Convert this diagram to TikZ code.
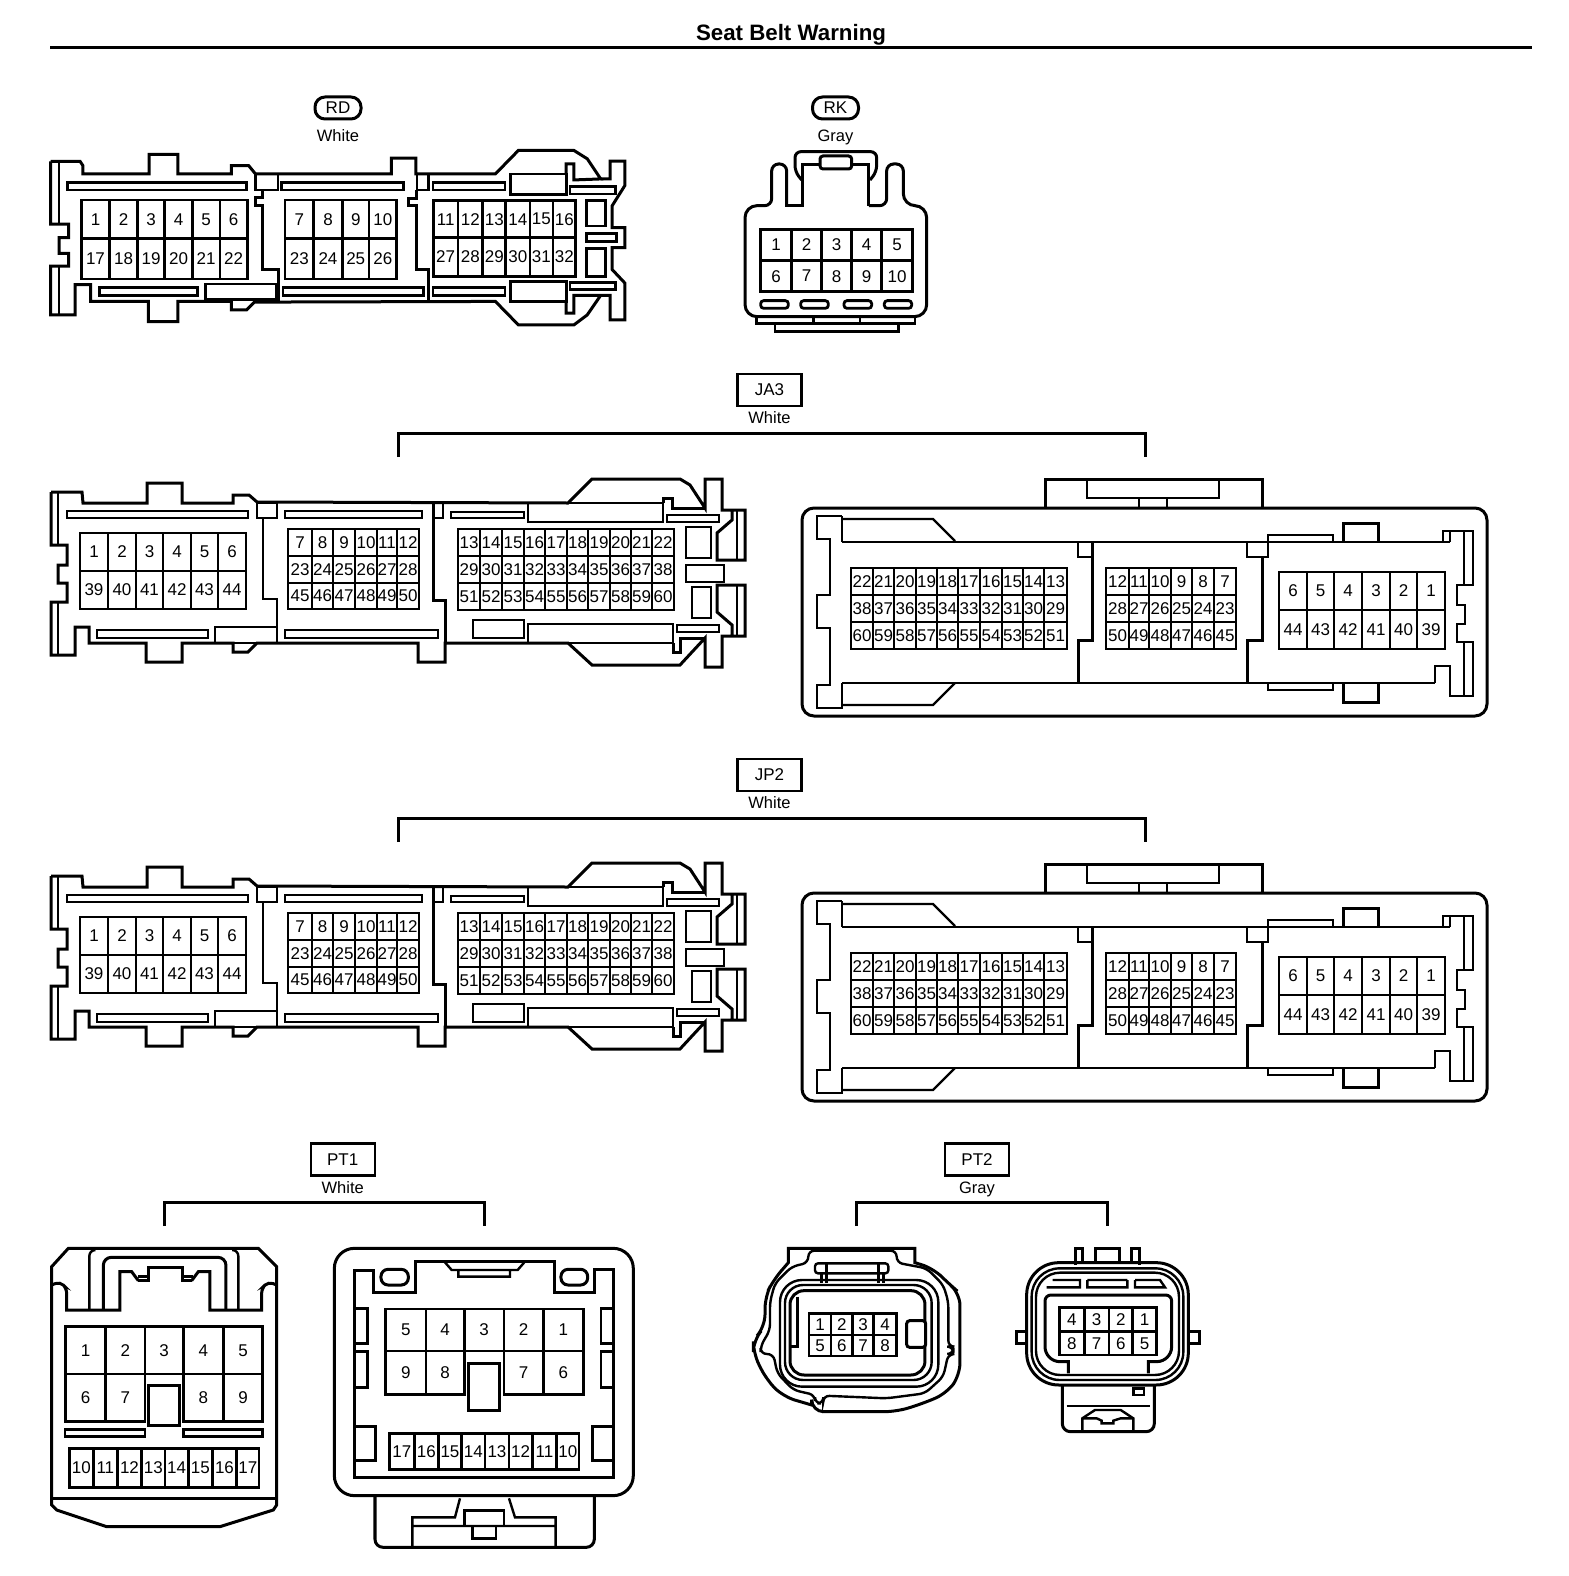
\documentclass[tikz,border=0pt]{standalone}
\usepackage{fontspec}
\setmainfont{Liberation Sans}
\tikzset{outline/.style={line width=3pt, line join=miter},
    thinline/.style={line width=2.4pt},
    barline/.style={line width=2.8pt},
    pincell/.style={line width=2.6pt},
    pin/.style={inner sep=0pt, font=\fontsize{17}{17}\selectfont},
    colourtext/.style={inner sep=0pt, text height=12pt, text depth=3.5pt, font=\fontsize{16.5}{16.5}\selectfont},
    boxtag/.style={draw, line width=2.2pt, minimum width=64pt, minimum height=32pt, inner sep=0pt, font=\fontsize{17}{17}\selectfont},
    pilltag/.style={draw, line width=3pt, rounded corners=10pt, minimum width=46pt, minimum height=22pt, inner sep=0pt, font=\fontsize{17}{17}\selectfont},
    bracket/.style={line width=3pt}}
% one row of pins: prefix, top, bottom, cell edges, pin numbers
\newcommand{\pinrow}[5]{
    \foreach \pinno [count=\ii] in {#5} {
        \pgfmathsetmacro{\xa}{{#4}[\ii-1]}
        \pgfmathsetmacro{\xb}{{#4}[\ii]}
        \draw[pincell] (\xa,#2) rectangle (\xb,#3);
        \node[pin] (#1\pinno) at ({(\xa+\xb)/2},{(#2+#3)/2}) {\pinno};
    }
}
\newcommand{\bars}[1]{\foreach \a/\b/\c/\d in {#1} {\draw[barline] (\a,\b) rectangle (\c,\d);}}
% long connector with the tabs on the right
\newcommand{\longconn}[1]{
    \draw[outline] (51,492) -- (82,492) -- (83,503) -- (147,503) -- (147,483) -- (182,483) -- (182,503) -- (233,503) -- (233,495) -- (249,495) -- (257,502) -- (568,503) -- (592,479) -- (680,479) -- (690,485) -- (705,508) -- (705,479) -- (722,479) -- (722,510) -- (745,510) -- (745,560) -- (717,560) -- (717,533) -- (732,520) -- (732,510);
    \draw[outline] (663,503) -- (663,498) -- (672,498) -- (672,508) -- (705,508);
    \draw[outline] (51,492) -- (51,545) -- (67,545) -- (67,565) -- (58,565) -- (58,583) -- (67,583) -- (67,602) -- (51,602) -- (51,655) -- (75,655) -- (75,627) -- (89,627) -- (89,643) -- (146,643) -- (146,662) -- (182,662) -- (182,643) -- (233,643) -- (233,652) -- (248,652) -- (257,643) -- (418,643) -- (418,662) -- (445,662) -- (445,643) -- (568,643) -- (592,665) -- (680,665) -- (705,638) -- (705,667) -- (722,667) -- (722,636) -- (745,636) -- (745,585) -- (717,585) -- (717,612) -- (732,625) -- (732,636);
    \draw[outline] (705,638) -- (680,638) -- (680,652) -- (673,652) -- (673,643);
    \draw[thinline] (58,492) -- (58,545) (58,602) -- (58,655) (737,510) -- (737,560) (737,585) -- (737,636);
    \draw[thinline] (263,518) -- (263,599) -- (277,599) -- (277,643);
    \draw[outline] (433,503) -- (433,600) -- (445,600) -- (445,643);
    \bars{67/511/248/518, 285/511/422/518, 97/630/208/638, 285/630/438/638, 215/627/277/643, 257/503/277/518, 433/503/443/518, 451/512/524/518, 528/503/663/522, 528/624/673/643, 473/620/524/638, 667/515/719/522, 677/625/719/632, 686/527/711/558, 686/565/724/582, 692/587/711/618}
    \def\edgesA{80,108,136,163,191,218,246}
    \pinrow{#1a}{533}{571}{\edgesA}{1,2,3,4,5,6}
    \pinrow{#1a}{571}{609}{\edgesA}{39,40,41,42,43,44}
    \def\edgesB{288,312,333,355,377,397,419}
    \pinrow{#1b}{529}{556}{\edgesB}{7,8,9,10,11,12}
    \pinrow{#1b}{556}{583}{\edgesB}{23,24,25,26,27,28}
    \pinrow{#1b}{583}{609}{\edgesB}{45,46,47,48,49,50}
    \def\edgesC{458,480,502,524,545,567,588,610,631,652,674}
    \pinrow{#1c}{529}{556}{\edgesC}{13,14,15,16,17,18,19,20,21,22}
    \pinrow{#1c}{556}{583}{\edgesC}{29,30,31,32,33,34,35,36,37,38}
    \pinrow{#1c}{583}{610}{\edgesC}{51,52,53,54,55,56,57,58,59,60}
}
% mating half in the rounded case
\newcommand{\caseconn}[1]{
    \draw[outline, rounded corners=12pt] (802,508) rectangle (1487,716);
    \draw[outline] (1045,508) -- (1045,479) -- (1262,479) -- (1262,508);
    \draw[thinline] (1087,479) -- (1087,498) -- (1219,498) -- (1219,479);
    \draw[thinline] (1139,498) -- (1139,508) (1167,498) -- (1167,508);
    \draw[pincell] (842,516) -- (817,516) -- (817,539) -- (830,539) -- (830,595) -- (817,595) -- (817,628) -- (830,628) -- (830,685) -- (817,685) -- (817,708) -- (842,708) -- (842,683);
    \draw[pincell] (842,516) -- (842,542);
    \draw[thinline] (842,519) -- (933,519) -- (955,541) (842,705) -- (933,705) -- (955,683);
    \draw[thinline] (842,542) -- (1450,542) (842,683) -- (1435,683);
    \draw[thinline] (1078,542) -- (1078,557) -- (1092,557);
    \draw[outline] (1092,542) -- (1092,640) -- (1078,640) -- (1078,683);
    \draw[thinline] (1247,542) -- (1247,557) -- (1268,557) -- (1268,535) -- (1333,535) -- (1333,542);
    \draw[outline] (1262,557) -- (1262,640) -- (1247,640) -- (1247,683);
    \draw[outline] (1343,542) -- (1343,523) -- (1378,523) -- (1378,542) (1343,683) -- (1343,702) -- (1378,702) -- (1378,683);
    \draw[thinline] (1268,683) -- (1268,690) -- (1333,690) -- (1333,683);
    \draw[thinline] (1443,542) -- (1443,531) -- (1473,531) -- (1473,585) -- (1457,585) -- (1457,605) -- (1465,605) -- (1465,624) -- (1457,624) -- (1457,642) -- (1473,642) -- (1473,696) -- (1450,696) -- (1450,666) -- (1435,666) -- (1435,683);
    \draw[thinline] (1450,531) -- (1450,542) (1464,531) -- (1464,585) (1464,642) -- (1464,696);
    \def\edgesD{851,873,894,916,937,958,980,1002,1023,1044,1067}
    \pinrow{#1d}{568}{595}{\edgesD}{22,21,20,19,18,17,16,15,14,13}
    \pinrow{#1d}{595}{622}{\edgesD}{38,37,36,35,34,33,32,31,30,29}
    \pinrow{#1d}{622}{649}{\edgesD}{60,59,58,57,56,55,54,53,52,51}
    \def\edgesE{1106,1129,1149,1171,1192,1214,1236}
    \pinrow{#1e}{568}{595}{\edgesE}{12,11,10,9,8,7}
    \pinrow{#1e}{595}{622}{\edgesE}{28,27,26,25,24,23}
    \pinrow{#1e}{622}{649}{\edgesE}{50,49,48,47,46,45}
    \def\edgesF{1279,1307,1334,1362,1390,1417,1445}
    \pinrow{#1f}{572}{610}{\edgesF}{6,5,4,3,2,1}
    \pinrow{#1f}{610}{649}{\edgesF}{44,43,42,41,40,39}
}

\begin{document}
\begin{tikzpicture}[x=1pt,y=-1pt]
    \useasboundingbox (0,0) rectangle (1568,1576);
    \node[inner sep=0pt, font=\fontsize{22.3}{22.3}\selectfont\bfseries] (title) at (791,34.5) {Seat Belt Warning};
    \coordinate (ruleleft) at (50,47.5);
    \coordinate (ruleright) at (1532,47.5);
    \draw[line width=3.5pt] (ruleleft) -- (ruleright);

    % tags
    \node[pilltag] (rd) at (338,108) {RD};
    \node[colourtext] (rdcolour) at (338,137.5) {White};
    \node[pilltag] (rk) at (835.5,108) {RK};
    \node[colourtext] (rkcolour) at (835.5,137.5) {Gray};
    \node[boxtag] (ja3) at (769.5,390) {JA3};
    \node[colourtext] (ja3colour) at (769.5,419.5) {White};
    \node[boxtag] (jp2) at (769.5,775) {JP2};
    \node[colourtext] (jp2colour) at (769.5,804.5) {White};
    \node[boxtag] (pt1) at (342.7,1159.5) {PT1};
    \node[colourtext] (pt1colour) at (342.7,1189.5) {White};
    \node[boxtag] (pt2) at (977,1159.5) {PT2};
    \node[colourtext] (pt2colour) at (977,1189.5) {Gray};

    % brackets
    \coordinate (ja3l) at (398,457);
    \coordinate (ja3r) at (1145,457);
    \coordinate (jp2l) at (398,842);
    \coordinate (jp2r) at (1145,842);
    \coordinate (pt1l) at (164,1226);
    \coordinate (pt1r) at (484,1226);
    \coordinate (pt2l) at (856,1226);
    \coordinate (pt2r) at (1107,1226);
    \draw[bracket] (ja3l) -- ++(0,-24) -| (ja3r);
    \draw[bracket] (jp2l) -- ++(0,-24) -| (jp2r);
    \draw[bracket] (pt1l) -- ++(0,-24) -| (pt1r);
    \draw[bracket] (pt2l) -- ++(0,-24) -| (pt2r);

    % RD
    \begin{scope}[shift={(40,90)},x=.3827pt,y=-.3356pt]
        \draw[outline] (28,213) -- (105,213) -- (112,225) -- (112,250) -- (285,250) -- (285,192) -- (360,192) -- (360,250) -- (500,250) -- (500,225) -- (545,225) -- (563,250) -- (918,250) -- (918,203) -- (982,203) -- (982,250) -- (1190,250) -- (1250,180) -- (1395,180) -- (1430,205) -- (1465,265) -- (1395,268) -- (1395,220) -- (1375,220) -- (1375,250);
        \draw[outline] (1465,265) -- (1490,265) -- (1490,212) -- (1528,212) -- (1528,285) -- (1495,345) -- (1495,410) -- (1528,410) -- (1528,470) -- (1495,470) -- (1495,535) -- (1528,575) -- (1528,685) -- (1490,685) -- (1490,612) -- (1465,612) -- (1395,612) -- (1395,665) -- (1375,665) -- (1375,630);
        \draw[outline] (28,213) -- (28,400) -- (75,400) -- (75,440) -- (50,440) -- (50,487) -- (75,487) -- (75,525) -- (28,525) -- (28,670) -- (92,670) -- (92,580) -- (132,580) -- (132,630) -- (283,630) -- (283,690) -- (360,690) -- (360,630) -- (500,630) -- (500,655) -- (540,655) -- (560,632) -- (1190,630) -- (1250,700) -- (1395,700) -- (1430,670) -- (1465,612);
        \draw[thinline] (50,213) -- (50,400) (50,525) -- (50,670);
        \draw[outline] (582,298) -- (582,320) -- (562,320) -- (562,343) -- (582,343) -- (582,535) -- (622,535) -- (622,630);
        \draw[outline] (985,298) -- (985,322) -- (962,322) -- (962,345) -- (985,345) -- (985,535) -- (1015,535) -- (1015,630);
        \bars{72/275/540/298, 630/275/950/298, 1027/275/1215/298, 155/588/412/613, 635/588/1003/613, 1027/588/1215/613, 433/578/618/625, 563/250/622/298, 985/250/1015/298, 1230/250/1375/312, 1230/570/1375/630, 1385/288/1503/310, 1385/573/1503/595, 1427/330/1477/405, 1427/428/1507/452, 1427/472/1477/555}
        \pinrow{rda}{328}{443}{108,182,255,326,398,470,542}{1,2,3,4,5,6}
        \pinrow{rda}{443}{563}{108,182,255,326,398,470,542}{17,18,19,20,21,22}
        \pinrow{rdb}{328}{443}{640,715,790,860,932}{7,8,9,10}
        \pinrow{rdb}{443}{563}{640,715,790,860,932}{23,24,25,26}
        \pinrow{rdc}{330}{440}{1028,1092,1157,1217,1280,1340,1400}{11,12,13,14,15,16}
        \pinrow{rdc}{440}{555}{1028,1092,1157,1217,1280,1340,1400}{27,28,29,30,31,32}
    \end{scope}

    % RK
    \begin{scope}[shift={(730,90)},x=.3333pt,y=-.3333pt]
        \draw[outline, rounded corners=7pt] (170,347) -- (170,222) -- (125,222) -- (125,347) [rounded corners=12pt] -- (45,347) -- (45,680) -- (590,680) -- (590,347) -- (520,347) [rounded corners=7pt] -- (520,222) -- (470,222) -- (470,347) -- (417,347);
        \draw[outline] (170,330) -- (170,347) -- (217,347) -- (217,225) -- (270,225) (365,225) -- (417,225) -- (417,347);
        \draw[outline, rounded corners=6pt] (215,270) -- (195,245) -- (195,185) -- (440,185) -- (440,245) -- (420,270);
        \draw[outline, rounded corners=3pt] (270,198) rectangle (365,237);
        \foreach \a/\c in {92/175, 212/295, 342/425, 463/545} {
            \draw[barline, rounded corners=3pt] (\a,632) rectangle (\c,655);
        }
        \draw[thinline] (80,680) -- (80,700) -- (555,700) -- (555,680) (250,680) -- (250,700) (390,680) -- (390,700);
        \draw[thinline] (135,700) -- (135,725) -- (505,725) -- (505,700);
        \pinrow{rk}{418}{512}{92,185,275,365,455,548}{1,2,3,4,5}
        \pinrow{rk}{512}{605}{92,185,275,365,455,548}{6,7,8,9,10}
    \end{scope}

    \longconn{ja}
    \caseconn{ja}
    \begin{scope}[shift={(0,384)}]
        \longconn{jp}
    \end{scope}
    \begin{scope}[shift={(0,385)}]
        \caseconn{jp}
    \end{scope}

    % PT1 plug
    \begin{scope}[shift={(40,1230)},x=.3333pt,y=-.3333pt]
        \draw[outline] (35,110) -- (85,55) -- (655,55) -- (710,110) -- (710,825) -- (700,840) -- (540,890) -- (200,890) -- (50,840) -- (35,825) -- cycle;
        \draw[thinline] (35,805) -- (710,805);
        \draw[outline] (35,165) [rounded corners=5pt] -- (60,155) -- (80,175) [sharp corners] -- (80,240) -- (240,240) -- (240,125) -- (275,125) -- (295,152);
        \draw[outline] (455,152) -- (475,125) -- (510,125) -- (510,240) -- (665,240) [rounded corners=5pt] -- (665,175) -- (685,155) -- (710,165);
        \draw[thinline] (295,152) -- (325,152) (295,140) -- (325,140) (428,152) -- (455,152) (428,140) -- (460,140);
        \draw[outline] (325,155) -- (325,112) -- (428,112) -- (428,155);
        \draw[thinline, rounded corners=6pt] (148,240) -- (148,60) -- (165,60) (580,60) -- (595,60) -- (595,240);
        \draw[outline, rounded corners=8pt] (190,240) -- (190,82) -- (558,82) -- (558,240);
        \pinrow{pt1a}{290}{432}{77,197,315,430,550,668}{1,2,3,4,5}
        \pinrow{pt1a}{432}{575}{77,197,315}{6,7}
        \pinrow{pt1a}{432}{575}{430,550,668}{8,9}
        \draw[outline] (325,465) rectangle (418,588);
        \bars{75/598/315/620, 430/598/668/620}
        \pinrow{pt1b}{655}{772}{88,160,232,305,375,445,517,590,657}{10,11,12,13,14,15,16,17}
    \end{scope}

    % PT1 socket
    \begin{scope}[shift={(325,1230)},x=.3333pt,y=-.3333pt]
        \draw[outline, rounded corners=20pt] (28,55) rectangle (925,797);
        \draw[outline] (88,120) -- (145,120) -- (145,187) -- (272,187) -- (272,93) -- (688,93) -- (688,187) -- (808,187) -- (808,118) -- (865,118) -- (865,742) -- (88,742) -- cycle;
        \draw[outline, rounded corners=7pt] (168,118) rectangle (250,165) (708,118) rectangle (788,165);
        \draw[thinline] (360,97) -- (380,120) -- (578,120) -- (598,97) (400,120) -- (400,140) -- (555,140) -- (555,120);
        \draw[thinline] (88,235) -- (128,235) -- (128,340) -- (88,340) (88,365) -- (128,365) -- (128,472) -- (88,472);
        \draw[thinline] (865,235) -- (828,235) -- (828,340) -- (865,340) (865,365) -- (828,365) -- (828,472) -- (865,472);
        \draw[thinline] (88,590) -- (152,590) -- (152,692) -- (88,692) (865,590) -- (802,590) -- (802,692) -- (865,692);
        \pinrow{pt1c}{237}{363}{182,303,418,537,655,775}{5,4,3,2,1}
        \pinrow{pt1c}{363}{493}{182,303,418}{9,8}
        \pinrow{pt1c}{363}{493}{537,655,775}{7,6}
        \draw[outline] (430,400) rectangle (525,542);
        \pinrow{pt1d}{610}{718}{193,268,340,410,480,552,622,695,762}{17,16,15,14,13,12,11,10}
        \draw[outline, rounded corners=8pt] (150,797) -- (150,952) -- (808,952) -- (808,797);
        \draw[thinline] (405,805) -- (390,862) -- (262,862) -- (262,952) (262,888) -- (692,888) (692,952) -- (692,862) -- (570,862) -- (552,805);
        \draw[thinline] (418,888) -- (418,842) -- (537,842) -- (537,888) (442,888) -- (442,925) -- (513,925) -- (513,888);
    \end{scope}

    % PT2 plug
    \begin{scope}[shift={(740,1230)},x=.3333pt,y=-.3333pt]
        \draw[outline] (145,98) -- (145,55) -- (525,55) -- (525,98) [rounded corners=12pt] -- (580,115) -- (625,160) -- (660,190) -- (660,435) -- (620,490) -- (550,520) -- (470,545) -- (215,545) [sharp corners] -- (215,525) [rounded corners=12pt] -- (130,500) -- (80,450) -- (40,370) -- (40,330) -- (75,290) -- (75,200) -- (100,150) [sharp corners] -- cycle;
        \draw[thinline, rounded corners=6pt] (205,62) -- (205,98) -- (155,110) -- (105,160) -- (90,215) -- (90,300) -- (62,348) -- (62,372) -- (100,372) -- (112,430) -- (160,480) -- (225,495) -- (225,520) -- (250,520) -- (250,497) -- (440,505) -- (555,490) -- (610,440) -- (625,372) -- (640,372) -- (640,350) -- (625,350) -- (625,215) -- (610,165) -- (560,115) -- (470,98) -- (470,62) -- cycle;
        \draw[thinline, rounded corners=22pt] (120,150) rectangle (595,470);
        \draw[thinline, rounded corners=18pt] (135,165) rectangle (575,450);
        \draw[outline, rounded corners=14pt] (150,182) rectangle (555,435);
        \draw[thinline, rounded corners=3pt] (225,130) -- (225,100) -- (445,100) -- (445,130) -- cycle;
        \draw[thinline] (260,100) -- (260,160) (245,130) -- (245,160) (430,130) -- (430,160) (415,100) -- (415,160);
        \draw[thinline] (172,200) -- (172,350) -- (150,350);
        \pinrow{pt2a}{250}{315}{207,273,338,400,470}{1,2,3,4}
        \pinrow{pt2a}{315}{378}{207,273,338,400,470}{5,6,7,8}
        \draw[outline, rounded corners=3pt, fill=white] (500,272) rectangle (557,352);
    \end{scope}

    % PT2 socket
    \begin{scope}[shift={(1000,1230)},x=.3333pt,y=-.3333pt]
        \draw[outline] (225,105) -- (225,55) -- (248,55) -- (248,100) (285,100) -- (285,55) -- (358,55) -- (358,100) (395,100) -- (395,55) -- (418,55) -- (418,105);
        \draw[outline] (80,305) -- (50,305) -- (50,340) -- (80,340) (565,305) -- (600,305) -- (600,340) -- (565,340);
        \draw[outline, rounded corners=32pt] (80,98) rectangle (565,465);
        \draw[thinline, rounded corners=28pt] (95,115) rectangle (550,450);
        \draw[thinline, rounded corners=24pt] (108,128) rectangle (537,435);
        \draw[outline] (205,430) -- (205,395) [rounded corners=15pt] -- (135,395) [rounded corners=6pt] -- (135,195) -- (515,195) [rounded corners=15pt] -- (515,395) [sharp corners] -- (445,395) -- (445,430);
        \draw[thinline] (158,150) -- (240,150) -- (240,172) -- (140,172) (262,150) -- (262,172) -- (382,172) -- (382,150) (405,150) -- (405,172) -- (495,172) -- (480,150) -- (405,150) (262,150) -- (382,150);
        \pinrow{pt2b}{232}{305}{178,253,327,398,470}{4,3,2,1}
        \pinrow{pt2b}{305}{375}{178,253,327,398,470}{8,7,6,5}
        \draw[outline, rounded corners=8pt] (187,465) -- (187,605) -- (463,605) -- (463,465);
        \draw[thinline] (200,528) -- (450,528) (400,475) rectangle (432,495);
        \draw[thinline] (247,605) -- (247,565) -- (285,540) -- (362,540) -- (400,565) -- (400,605) (247,565) -- (290,565) -- (305,572) -- (305,580) -- (340,580) -- (340,572) -- (362,565) -- (400,565);
    \end{scope}
\end{tikzpicture}
\end{document}
